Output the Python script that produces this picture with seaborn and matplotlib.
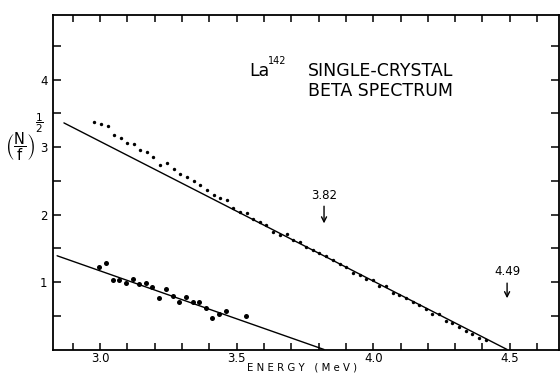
import numpy as np
import pandas as pd
import matplotlib
matplotlib.use("Agg")
import matplotlib.pyplot as plt
import seaborn as sns

# ---- data ----
upper_energy = [2.977, 3.003, 3.028, 3.050, 3.076, 3.100, 3.123, 3.148, 3.172, 3.195,
                3.221, 3.245, 3.270, 3.294, 3.319, 3.343, 3.366, 3.391, 3.416, 3.441,
                3.465, 3.488, 3.513, 3.537, 3.561, 3.586, 3.609, 3.634, 3.659, 3.684,
                3.707, 3.731, 3.755, 3.779, 3.803, 3.828, 3.852, 3.877, 3.901, 3.926,
                3.950, 3.974, 3.999, 4.023, 4.048, 4.071, 4.095, 4.120, 4.144, 4.168,
                4.193, 4.217, 4.242, 4.266, 4.290, 4.314, 4.338, 4.363, 4.387, 4.411]
upper_value = [3.37, 3.34, 3.32, 3.18, 3.13, 3.06, 3.04, 2.96, 2.93, 2.85,
               2.74, 2.76, 2.67, 2.60, 2.56, 2.50, 2.44, 2.37, 2.29, 2.24,
               2.21, 2.10, 2.04, 2.03, 1.94, 1.89, 1.85, 1.74, 1.70, 1.71,
               1.63, 1.60, 1.52, 1.47, 1.43, 1.39, 1.32, 1.27, 1.23, 1.14,
               1.10, 1.05, 1.03, 0.94, 0.94, 0.84, 0.81, 0.77, 0.71, 0.66,
               0.60, 0.53, 0.52, 0.43, 0.39, 0.34, 0.27, 0.23, 0.17, 0.14]

lower_energy = [2.997, 3.022, 3.046, 3.071, 3.095, 3.120, 3.144, 3.168, 3.192, 3.217,
                3.242, 3.266, 3.290, 3.315, 3.340, 3.364, 3.387, 3.411, 3.436, 3.460,
                3.534]
lower_value = [1.23, 1.28, 1.03, 1.03, 0.98, 1.04, 0.97, 0.98, 0.93, 0.77,
               0.89, 0.79, 0.71, 0.78, 0.71, 0.70, 0.61, 0.47, 0.52, 0.57,
               0.49]

upper_fit_energy = [2.868, 4.49]
upper_fit_value = [3.36, 0.0]
lower_fit_energy = [2.843, 3.82]
lower_fit_value = [1.39, 0.0]

x_tick_values = [2.9, 3.0, 3.1, 3.2, 3.3, 3.4, 3.5, 3.6, 3.7, 3.8, 3.9,
                 4.0, 4.1, 4.2, 4.3, 4.4, 4.5, 4.6]
x_tick_labels = ["", "3.0", "", "", "", "", "3.5", "", "", "", "",
                 "4.0", "", "", "", "", "4.5", ""]
y_tick_values = [0.5, 1.0, 1.5, 2.0, 2.5, 3.0, 3.5, 4.0, 4.5]
y_tick_labels = ["", "1", "", "2", "", "3", "", "4", ""]

endpoint_labels = ["3.82", "4.49"]
endpoint_energy = [3.82, 4.49]
endpoint_text_y = [2.29, 1.15]
endpoint_arrow_tip = [1.87, 0.76]

# ---- plotting ----
sns.set_theme(style="ticks")
plt.rcParams["font.family"] = ["DejaVu Sans"]
plt.rcParams["mathtext.fontset"] = "dejavusans"

fig = plt.figure(figsize=(5.6, 3.73), dpi=100)
ax = fig.add_axes([53 / 560, 1 - 349.5 / 373, (559 - 53) / 560, (349.5 - 15) / 373])
fig.patch.set_facecolor("white")
ax.set_facecolor("white")

upper_df = pd.DataFrame({"energy": upper_energy, "value": upper_value})
lower_df = pd.DataFrame({"energy": lower_energy, "value": lower_value})

sns.lineplot(x=upper_fit_energy, y=upper_fit_value, color="black", lw=1.0, ax=ax)
sns.lineplot(x=lower_fit_energy, y=lower_fit_value, color="black", lw=1.0, ax=ax)
sns.scatterplot(data=upper_df, x="energy", y="value", color="black", s=6,
                linewidth=0, ax=ax)
sns.scatterplot(data=lower_df, x="energy", y="value", color="black", s=13,
                linewidth=0, ax=ax)

ax.set_xlim(2.828, 4.68)
ax.set_ylim(0, 4.96)

ax.set_xticks(x_tick_values)
ax.set_xticklabels(x_tick_labels)
ax.set_yticks(y_tick_values)
ax.set_yticklabels(y_tick_labels)
ax.tick_params(axis="x", direction="in", length=5, width=1.1, top=True,
               bottom=True, pad=2, labelsize=8.5, colors="black")
ax.tick_params(axis="y", direction="in", length=6, width=1.1, left=True,
               right=True, pad=4, labelsize=8.5, colors="black")
for sp in ax.spines.values():
    sp.set_visible(True)
    sp.set_color("black")
    sp.set_linewidth(1.3)

ax.set_xlabel("")
ax.set_ylabel("")
ax.grid(False)

# x-axis label
fig.text(302 / 560, 1 - 367 / 373, "E N E R G Y   ( M e V )", ha="center",
         va="center", fontsize=7.3, color="black")
# y-axis label: (N/f) with a 1/2 exponent
fig.text(20 / 560, 1 - 147 / 373, r"$\left(\dfrac{\mathrm{N}}{\mathrm{f}}\right)$",
         ha="center", va="center", fontsize=10.5, color="black")
fig.text(39 / 560, 1 - 123 / 373, r"$\dfrac{1}{2}$",
         ha="center", va="center", fontsize=7.5, color="black")

# annotation text
ax.text(3.548, 4.05, "La", fontsize=12.5, ha="left", va="baseline", color="black")
ax.text(3.613, 4.24, "142", fontsize=7, ha="left", va="baseline", color="black")
ax.text(3.762, 4.05, "SINGLE-CRYSTAL", fontsize=12.5, ha="left", va="baseline",
        color="black")
ax.text(3.762, 3.76, "BETA SPECTRUM", fontsize=12.5, ha="left", va="baseline",
        color="black")

for lab, ex, ty, tip in zip(endpoint_labels, endpoint_energy, endpoint_text_y,
                            endpoint_arrow_tip):
    ax.annotate(lab, xy=(ex, tip), xytext=(ex, ty), ha="center", va="center",
                fontsize=8.5, color="black",
                arrowprops=dict(arrowstyle="->", color="black", lw=1.0,
                                mutation_scale=9, shrinkA=1, shrinkB=0))

fig.savefig("out.png", dpi=100, facecolor="white")
